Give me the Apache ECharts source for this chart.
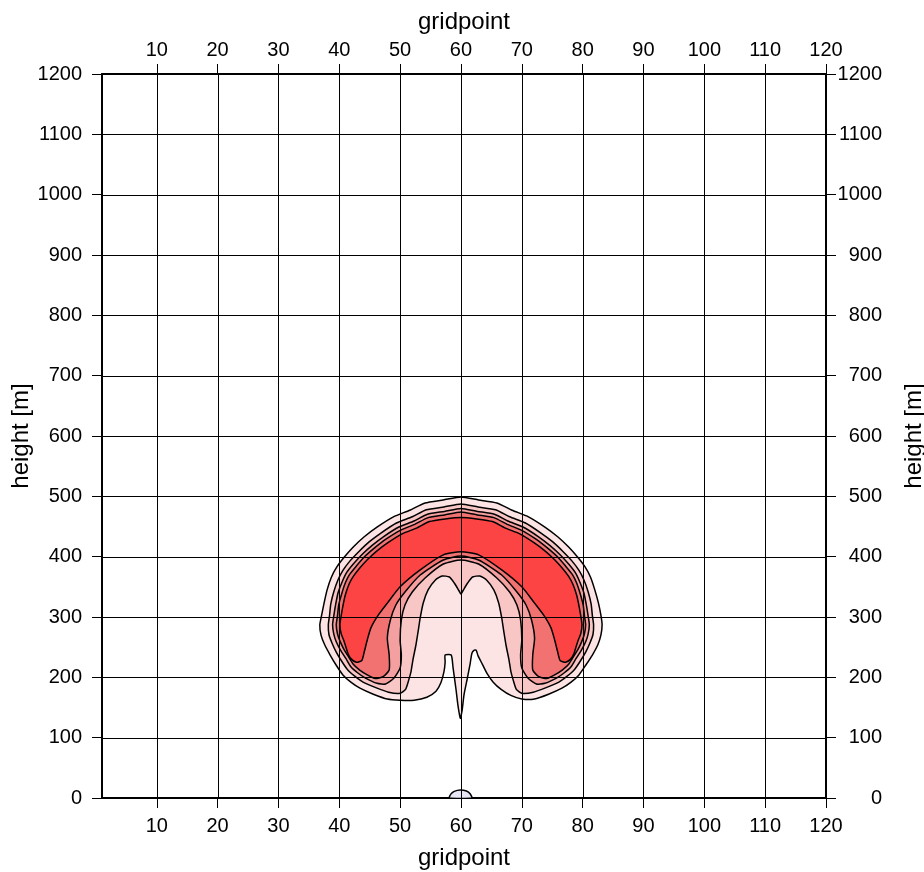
<!DOCTYPE html>
<html><head><meta charset="utf-8">
<script src="https://cdn.jsdelivr.net/npm/echarts@6/dist/echarts.min.js"></script>
<style>html,body{margin:0;padding:0;background:#fff}#c{width:924px;height:872px}</style>
</head><body><div id="c"></div>
<script>
// ---- axis ticks ----
const xTicks = [10, 20, 30, 40, 50, 60, 70, 80, 90, 100, 110, 120];
const xGrid = [10, 20, 30, 40, 50, 60, 70, 80, 90, 100, 110];
const yGrid = [100, 200, 300, 400, 500, 600, 700, 800, 900, 1000, 1100];

// ---- contour polygons (gridpoint, height [m]) ----
// level 1: outermost contour, with the stem notch
const contour1 = [
  [60,499],[57.1,494],[54.1,489],[51.6,477],[48.9,466],[46.2,449],[44.1,433],[42.3,416],[40.8,399],[39.6,383],
  [38.7,366],[38.0,345],[37.5,323],[37.1,303],[36.8,287],[37.0,270],[37.6,254],[38.5,237],[39.5,220],[40.6,204],
  [41.9,192],[43.4,182],[45.6,172],[47.9,164],[50.0,162],[52.3,162],[54.4,167],[55.9,177],[56.7,191],[57.2,209],
  [57.4,225],[57.4,237],[58.4,237],[58.7,216],[59.2,179],[59.5,154],[59.9,132],
  [60.2,146],[60.5,171],[61.0,196],[61.5,222],[61.8,240],[62.2,245],[62.5,245],[62.8,236],[63.5,222],[64.3,206],
  [65.3,192],[66.6,180],[68.2,170],[70.0,164],[72.1,164],[74.4,172],[76.6,182],[78.1,192],[79.4,204],[80.5,220],
  [81.6,237],[82.5,254],[83.0,270],[83.2,287],[83.0,303],[82.6,323],[82.0,345],[81.3,366],[80.4,383],[79.2,399],
  [77.7,416],[75.9,433],[73.8,449],[71.1,466],[68.4,477],[65.9,489],[62.9,494]
];
// level 2: outer ring + inner line with the central dip
const contour2 = [
  [60,487.4],[57.2,482.4],[54.3,477.7],[52.0,466.1],[49.4,455.8],[46.9,439.5],[44.9,424.4],[43.2,408.2],[41.7,392.2],
  [40.6,377.2],[39.8,361.7],[39.1,342],[38.6,321.4],[38.4,302.4],[38.2,287],[38.3,271],[38.8,257],[39.5,241.9],
  [40.4,226.7],[41.4,212.2],[42.6,201.5],[43.9,192.2],[46.0,183],[48.1,175.4],[50.0,173.6],
  [50.9,180],[51.4,195],[51.8,210],[52.1,228.7],[52.6,253.6],[53.0,278.5],[53.3,298.4],[53.8,323.2],[54.6,344.8],
  [55.8,361.3],[56.9,368],[58.1,366.3],[58.9,356.4],[59.7,343.1],[60.0,338.1],
  [60.3,343.1],[61.1,356.4],[61.9,366.3],[63.1,368],[64.2,361.3],[65.4,344.8],[66.2,323.2],[66.7,298.4],[67.0,278.5],
  [67.4,253.6],[67.9,228.7],[68.2,210],[68.6,195],[69.1,180],[70.0,173.6],
  [71.9,175.4],[74.0,183],[76.1,192.2],[77.4,201.5],[78.6,212.2],[79.6,226.7],[80.5,241.9],[81.2,257],[81.7,271],
  [81.8,287],[81.6,302.4],[81.4,321.4],[80.9,342],[80.2,361.7],[79.4,377.2],[78.3,392.2],[76.8,408.2],[75.1,424.4],
  [73.1,439.5],[70.6,455.8],[68.0,466.1],[65.7,477.7],[62.8,482.4]
];
// level 3
const contour3 = [
  [60,479.9],[57.3,475.0],[54.5,470.4],[52.3,459.1],[49.8,449.2],[47.3,433.4],[45.4,418.8],[43.7,403.3],[42.3,387.8],
  [41.2,373.5],[40.5,358.9],[39.8,340.1],[39.4,320.4],[39.1,302],[38.9,287],[39.1,271.7],[39.5,258.9],[40.2,245.1],
  [41.1,230.9],[41.9,217.5],[43.0,207.6],[44.3,198.8],[46.2,190.1],[47.6,189],
  [49.0,198.9],[50.0,215.5],[50.2,237],[50.0,261.9],[50.2,295],[50.8,319.9],[52.0,341.4],[54.1,364.6],[57.1,387.8],[60,394.5],
  [62.9,387.8],[65.9,364.6],[68.0,341.4],[69.2,319.9],[69.8,295],[70.0,261.9],[69.8,237],[70.0,215.5],[71.0,198.9],
  [72.4,189],[73.8,190.1],[75.7,198.8],[77.0,207.6],[78.1,217.5],[78.9,230.9],[79.8,245.1],[80.5,258.9],[80.9,271.7],
  [81.1,287],[80.9,302],[80.6,320.4],[80.2,340.1],[79.5,358.9],[78.8,373.5],[77.7,387.8],[76.3,403.3],[74.6,418.8],
  [72.7,433.4],[70.2,449.2],[67.7,459.1],[65.5,470.4],[62.7,475.0]
];
// level 4
const contour4 = [
  [60,474.1],[57.3,469.2],[54.6,464.7],[52.4,453.6],[50.1,444.1],[47.6,428.6],[45.8,414.5],[44.1,399.4],[42.8,384.4],
  [41.7,370.6],[41.0,356.7],[40.4,338.6],[39.9,319.5],[39.7,301.7],[39.5,287],[39.7,272.2],[40.1,260.4],[40.7,247.5],
  [41.5,234.3],[42.3,221.6],[43.3,212.4],[44.6,204],[45.9,198],[47.2,201],
  [48.2,212.2],[48.2,237],[47.9,265.2],[48.4,295],[49.3,319.9],[50.8,341.4],[53.3,369.6],[57.1,394.5],[60,401.1],
  [62.9,394.5],[66.7,369.6],[69.2,341.4],[70.7,319.9],[71.6,295],[72.1,265.2],[71.8,237],[71.8,212.2],[72.8,201],
  [74.1,198],[75.4,204],[76.7,212.4],[77.7,221.6],[78.5,234.3],[79.3,247.5],[79.9,260.4],[80.3,272.2],[80.5,287],
  [80.3,301.7],[80.1,319.5],[79.6,338.6],[79.0,356.7],[78.3,370.6],[77.2,384.4],[75.9,399.4],[74.2,414.5],[72.4,428.6],
  [69.9,444.1],[67.6,453.6],[65.4,464.7],[62.7,469.2]
];
// level 5: red cap with the hooks
const contour5 = [
  [60,465],[57.4,462.6],[54.8,458.2],[52.7,447.4],[50.4,438.2],[48.0,423.2],[46.2,409.6],[44.6,394.9],[43.3,380.5],
  [42.3,367.3],[41.6,354.2],[41.0,336.8],[40.6,318.6],[40.3,301.4],[40.1,287],[40.3,272.7],[40.7,262.2],[41.1,250],
  [41.4,240],[41.9,231],[42.8,225],[43.7,228],[44.1,242],[44.6,262],[45.2,282],[46.4,303],[47.9,323],[50.0,350],
  [53.3,378],[57.1,403],[60,408],
  [62.9,403],[66.7,378],[70.0,350],[72.1,323],[73.6,303],[74.8,282],[75.4,262],[75.9,242],[76.3,228],[77.2,225],
  [78.1,231],[78.6,240],[78.9,250],[79.3,262.2],[79.7,272.7],[79.9,287],[79.7,301.4],[79.4,318.6],[79.0,336.8],
  [78.4,354.2],[77.7,367.3],[76.7,380.5],[75.4,394.9],[73.8,409.6],[72.0,423.2],[69.6,438.2],[67.3,447.4],[65.2,458.2],
  [62.6,462.6]
];
// small contour at the ground
const groundContour = [
  [58.1,0],[58.3,6],[58.9,11],[59.9,13.3],[60.9,11.5],[61.5,7],[61.8,0]
];

const fills = ['#fce4e4', '#f9c6c6', '#f5a0a0', '#f27272', '#fd4444'];
const FONT = 'Liberation Sans, Arial, sans-serif';

function polySeries(pts, fill, z) {
  return {
    type: 'custom', coordinateSystem: 'cartesian2d', data: pts, z: z, silent: true, clip: true,
    renderItem: function (params, api) {
      if (params.dataIndex !== 0) return null;
      return {
        type: 'polygon',
        shape: { points: pts.map(function (p) { return api.coord(p); }), smooth: 0.2 },
        style: { fill: fill, stroke: '#000', lineWidth: 1.5 }
      };
    }
  };
}

const vGridSeries = {
  type: 'custom', coordinateSystem: 'cartesian2d', data: xGrid.map(function (v) { return [v, 0]; }), z: 10, silent: true,
  renderItem: function (params, api) {
    const a = api.coord([api.value(0), 0]), b = api.coord([api.value(0), 1200]);
    const x = Math.round(a[0]) + 0.5;
    return { type: 'line', shape: { x1: x, y1: a[1], x2: x, y2: b[1] }, style: { stroke: '#000', lineWidth: 1 } };
  }
};
const hGridSeries = {
  type: 'custom', coordinateSystem: 'cartesian2d', data: yGrid.map(function (v) { return [1, v]; }), z: 10, silent: true,
  renderItem: function (params, api) {
    const a = api.coord([1, api.value(1)]), b = api.coord([120, api.value(1)]);
    const y = Math.round(a[1]) + 0.5;
    return { type: 'line', shape: { x1: a[0], y1: y, x2: b[0], y2: y }, style: { stroke: '#000', lineWidth: 1 } };
  }
};

function plain(v) { return String(v); }

function xAxisDef(pos, margin, gap) {
  return {
    type: 'value', position: pos, min: 1, max: 120,
    axisLine: { onZero: false, lineStyle: { color: '#000', width: 2 } },
    axisTick: { customValues: xTicks, length: 10, lineStyle: { color: '#000', width: 1 } },
    axisLabel: { customValues: xTicks, formatter: plain, margin: margin, color: '#000', fontSize: 20, fontFamily: FONT },
    splitLine: { show: false },
    name: 'gridpoint', nameLocation: 'middle', nameGap: gap, nameMoveOverlap: false,
    nameTextStyle: { color: '#000', fontSize: 24, fontFamily: FONT }
  };
}
function yAxisDef(pos, labelOpt, gap) {
  return {
    type: 'value', position: pos, min: 0, max: 1200, interval: 100,
    axisLine: { onZero: false, lineStyle: { color: '#000', width: 2 } },
    axisTick: { length: 10, lineStyle: { color: '#000', width: 1 } },
    axisLabel: Object.assign({ color: '#000', fontSize: 20, fontFamily: FONT, formatter: plain }, labelOpt),
    splitLine: { show: false },
    name: 'height [m]', nameLocation: 'middle', nameGap: gap, nameMoveOverlap: false,
    nameTextStyle: { color: '#000', fontSize: 24, fontFamily: FONT }
  };
}

const chart = echarts.init(document.getElementById('c'), null, { renderer: 'canvas' });
chart.setOption({
  animation: false,
  backgroundColor: '#fff',
  grid: { left: 102, right: 98, top: 74, bottom: 74, containLabel: false, outerBoundsMode: 'none' },
  xAxis: [xAxisDef('bottom', 18, 48), xAxisDef('top', 14, 40)],
  yAxis: [yAxisDef('left', { margin: 20 }, 69), yAxisDef('right', { margin: 56, align: 'right' }, 76)],
  series: [
    polySeries(contour1, fills[0], 2),
    polySeries(contour2, fills[1], 3),
    polySeries(contour3, fills[2], 4),
    polySeries(contour4, fills[3], 5),
    polySeries(contour5, fills[4], 6),
    polySeries(groundContour, '#e6e6f5', 7),
    vGridSeries,
    hGridSeries
  ]
});
</script>
</body></html>
